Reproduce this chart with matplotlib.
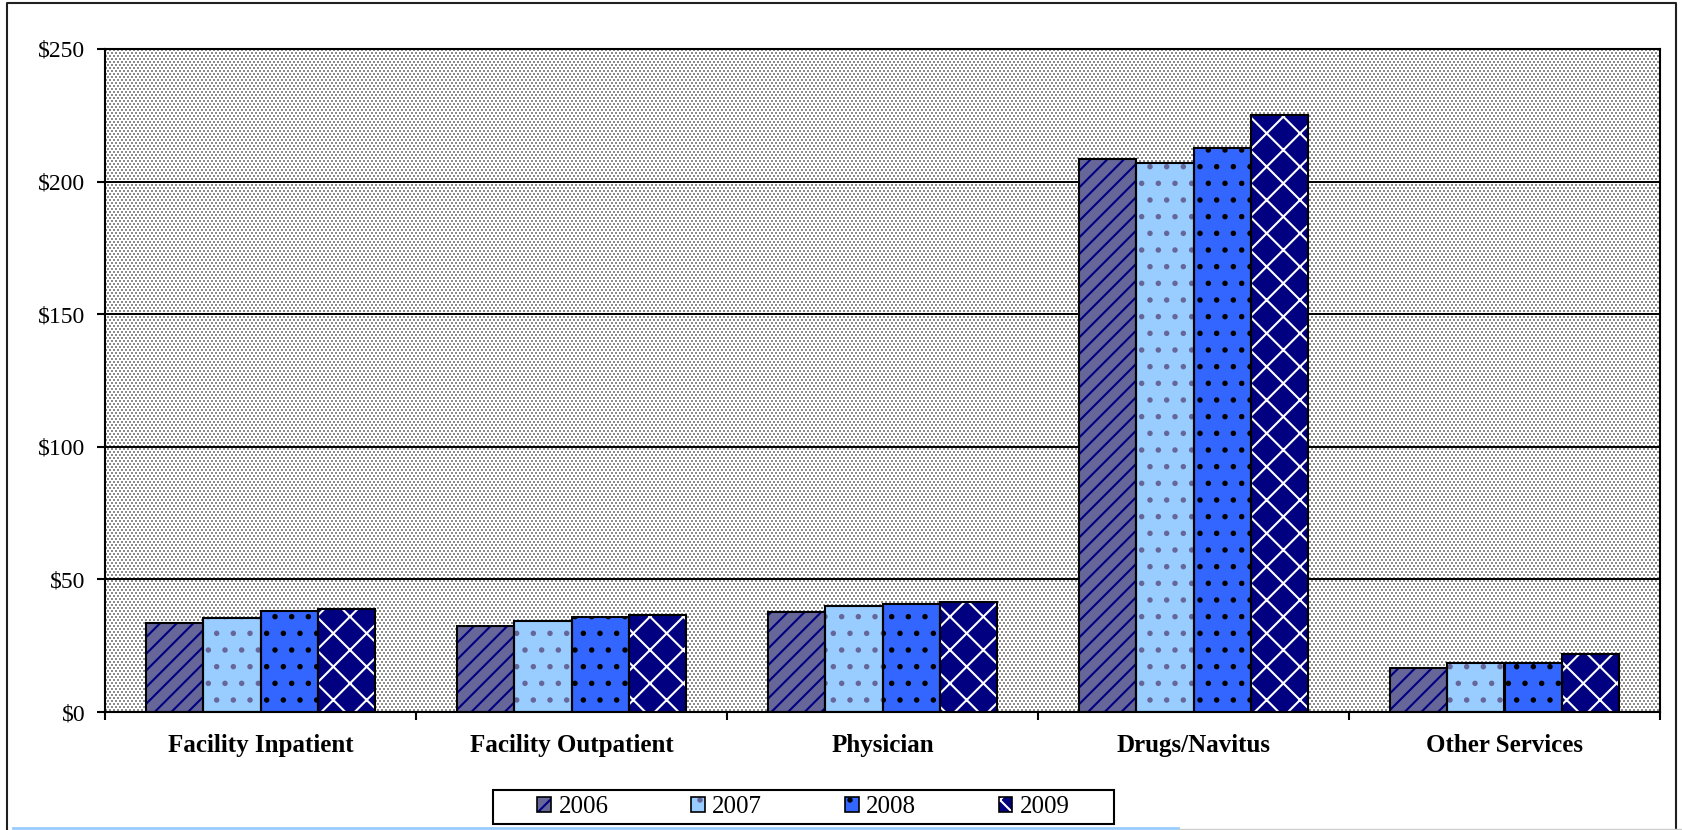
import numpy as np
import matplotlib
matplotlib.use("Agg")
import matplotlib.pyplot as plt
from matplotlib.patches import Patch, Rectangle
from matplotlib.lines import Line2D

# cost per member per month by service type
categories = ["Facility Inpatient", "Facility Outpatient", "Physician",
              "Drugs/Navitus", "Other Services"]
years = ["2006", "2007", "2008", "2009"]
cost_2006 = [33.4, 32.5, 37.8, 208.4, 16.7]
cost_2007 = [35.6, 34.2, 39.8, 206.9, 18.4]
cost_2008 = [38.2, 35.8, 40.6, 212.5, 18.4]
cost_2009 = [39.0, 36.6, 41.4, 225.2, 21.8]
series = [cost_2006, cost_2007, cost_2008, cost_2009]

yticks = [0, 50, 100, 150, 200, 250]
ytick_labels = ["$0", "$50", "$100", "$150", "$200", "$250"]

faces = ["#666699", "#99ccff", "#3366ff", "#000080"]
hatch_cols = ["#000080", "#666699", "#000000", "#ffffff"]
hatches = ["//", ".", ".", "x"]

plt.rcParams['font.family'] = ['Liberation Serif', 'DejaVu Serif']
plt.rcParams['hatch.linewidth'] = 1.5

W, H = 1683, 830
fig = plt.figure(figsize=(W / 100, H / 100), dpi=100)
fig.patch.set_facecolor("white")

# plot area position in pixels
ax_l, ax_r, ax_t, ax_b = 105, 1660, 49, 712
ax = fig.add_axes([ax_l / W, (H - ax_b) / H, (ax_r - ax_l) / W, (ax_b - ax_t) / H])
ax.patch.set_visible(False)

# dotted gray fill behind the plot area: 2x2 dots, staggered rows
ph, pw = ax_b - ax_t, ax_r - ax_l
tex = np.ones((ph, pw, 3))
for r in range(0, ph, 3):
    off = 0 if (r // 3) % 2 == 0 else 2
    tex[r:r + 2, off::4] = 0.55
    tex[r:r + 2, off + 1::4] = 0.55
fig.figimage(tex, xo=ax_l, yo=H - ax_b, zorder=-1, origin='upper')

x = np.arange(len(categories))
w = 0.1833
handles = []
for i, vals in enumerate(series):
    pos = x + (i - 1.5) * w
    ax.bar(pos, vals, w, color=faces[i], hatch=hatches[i],
           edgecolor=hatch_cols[i], linewidth=0, zorder=2)
    ax.bar(pos, vals, w, fill=False, edgecolor="black", linewidth=1.5, zorder=3)
    handles.append((Patch(facecolor=faces[i], hatch=hatches[i],
                          edgecolor=hatch_cols[i], linewidth=0),
                    Patch(fill=False, edgecolor="black", linewidth=1.2)))

ax.set_xlim(-0.5, len(categories) - 0.5)
ax.set_ylim(0, 250)
ax.set_yticks(yticks, ytick_labels)
ax.set_xticks(x, categories, fontweight="bold")
ax.set_xticks(np.arange(-0.5, len(categories)), minor=True)
ax.tick_params(axis="x", which="major", length=0, pad=16, labelsize=18)
ax.tick_params(axis="x", which="minor", length=6, width=1.5, direction="out")
ax.tick_params(axis="y", length=6, width=1.5, pad=8, labelsize=17)
ax.set_axisbelow(True)
ax.yaxis.grid(True, color="black", linewidth=1.4)
for sp in ax.spines.values():
    sp.set_color("black")
    sp.set_linewidth(1.5)

# legend box drawn separately so its size is fixed
lg_l, lg_r, lg_t, lg_b = 493, 1114, 790, 824
fig.add_artist(Rectangle((lg_l / W, (H - lg_b) / H), (lg_r - lg_l) / W, (lg_b - lg_t) / H,
                         transform=fig.transFigure, facecolor="white",
                         edgecolor="black", linewidth=1.5))
leg = fig.legend(handles, years, loc="center", ncol=4, frameon=False,
                 bbox_to_anchor=((lg_l + lg_r) / 2 / W, (H - (lg_t + lg_b) / 2) / H),
                 handlelength=0.55, handleheight=0.55, handletextpad=0.3,
                 columnspacing=3.3, borderpad=0, fontsize=18)
leg.set_zorder(5)

# outer frame and bottom rule
fig.add_artist(Line2D([7 / W, 7 / W, 1676 / W, 1676 / W], [0, 1 - 3 / H, 1 - 3 / H, 0],
                      transform=fig.transFigure, color="#202020", linewidth=1.5))
fig.add_artist(Line2D([13 / W, 1178 / W], [2 / H, 2 / H], transform=fig.transFigure,
                      color="#99ccff", linewidth=2))
fig.add_artist(Line2D([1178 / W, 1], [1 / H, 1 / H], transform=fig.transFigure,
                      color="#cccccc", linewidth=1))

fig.savefig("out.png", dpi=100)
